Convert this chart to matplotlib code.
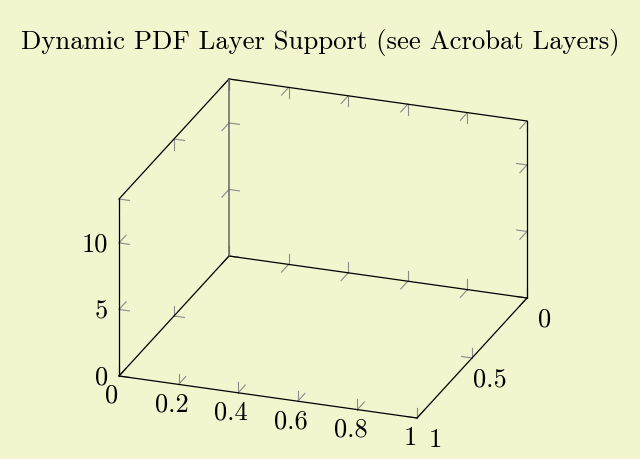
import numpy as np
import matplotlib
matplotlib.use('Agg')
import matplotlib.pyplot as plt

title = 'Dynamic PDF Layer Support (see Acrobat Layers)'

x_lim = (0, 1)
y_lim = (0, 1)
z_lim = (0, 13.3)
x_ticks = [0, 0.2, 0.4, 0.6, 0.8, 1]
x_labels = ['0', '0.2', '0.4', '0.6', '0.8', '1']
y_ticks = [0, 0.5, 1]
y_labels = ['0', '0.5', '1']
z_ticks = [0, 5, 10]
z_labels = ['0', '5', '10']

bg = '#f3f5cf'
fs = 19

# orthographic view, in figure pixels: where the (xmin, ymin, zmin) corner lands
# and the screen vector covered by the full range of each axis
origin = np.array([229.0, 256.0])
axis_vecs = [np.array([298.0, 42.0]),
             np.array([-110.0, 120.0]),
             np.array([0.0, -177.0])]
lims = [x_lim, y_lim, z_lim]
ticks = [x_ticks, y_ticks, z_ticks]
tick_len = 10.5


def proj(p):
    s = origin.copy()
    for k in range(3):
        s = s + (p[k] - lims[k][0]) / (lims[k][1] - lims[k][0]) * axis_vecs[k]
    return s


def edge_point(axis, t, fixed):
    p = [0.0, 0.0, 0.0]
    p[axis] = t
    for k, side in fixed.items():
        p[k] = lims[k][side]
    return p


# box edges that pgfplots keeps (the three at the near top corner are dropped)
edges = [(0, {1: 1, 2: 0}), (0, {1: 0, 2: 0}), (0, {1: 0, 2: 1}),
         (1, {0: 0, 2: 0}), (1, {0: 1, 2: 0}), (1, {0: 0, 2: 1}),
         (2, {0: 0, 1: 1}), (2, {0: 0, 1: 0}), (2, {0: 1, 1: 0})]

fig = plt.figure(figsize=(6.4, 4.59), dpi=100, facecolor=bg)
ax = fig.add_axes([0, 0, 1, 1])
ax.set_facecolor(bg)
ax.set_xlim(0, 640)
ax.set_ylim(459, 0)
ax.axis('off')

for axis, fixed in edges:
    a = proj(edge_point(axis, lims[axis][0], fixed))
    b = proj(edge_point(axis, lims[axis][1], fixed))
    if axis == 2 and fixed == {0: 0, 1: 0}:
        col, lw = '#666666', 1.1
    else:
        col, lw = 'black', 0.9
    ax.plot([a[0], b[0]], [a[1], b[1]], color=col, lw=lw, zorder=3,
            solid_capstyle='round')
    # tick marks point into both faces that meet at this edge
    for t in ticks[axis]:
        s = proj(edge_point(axis, t, fixed))
        for k, side in fixed.items():
            d = axis_vecs[k] / np.linalg.norm(axis_vecs[k])
            if side == 1:
                d = -d
            e = s + tick_len * d
            ax.plot([s[0], e[0]], [s[1], e[1]], color='#8a8a8a', lw=0.8, zorder=2)

txt = dict(family='cmr10', fontsize=fs, color='black')

for t, lab in zip(x_ticks, x_labels):
    s = proj(edge_point(0, t, {1: 1, 2: 0}))
    ax.text(s[0] - 7, s[1] + 20, lab, ha='center', va='center', **txt)

for t, lab in zip(y_ticks, y_labels):
    s = proj(edge_point(1, t, {0: 1, 2: 0}))
    ax.text(s[0] + 18, s[1] + 22, lab, ha='center', va='center', **txt)

for t, lab in zip(z_ticks, z_labels):
    s = proj(edge_point(2, t, {0: 0, 1: 1}))
    ax.text(s[0] - 11, s[1] + 2, lab, ha='right', va='center', **txt)

ax.text(320, 48.5, title, ha='center', va='baseline',
        family='cmr10', fontsize=19.2, color='black')

fig.savefig('out.png', dpi=100, facecolor=bg)
